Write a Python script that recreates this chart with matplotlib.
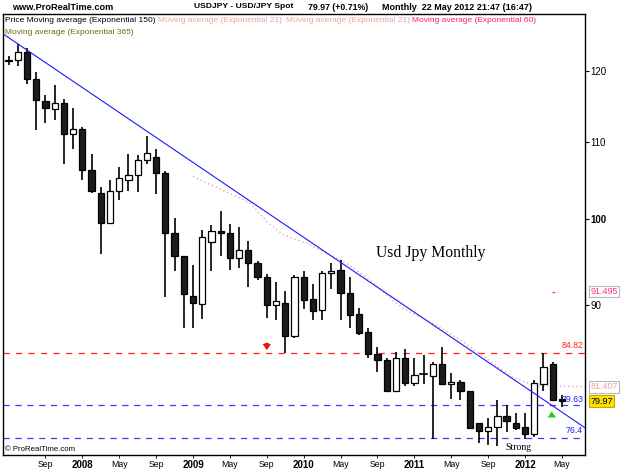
import matplotlib
matplotlib.use("Agg")
import matplotlib.pyplot as plt
from matplotlib.patches import Rectangle
from matplotlib.ticker import NullLocator, FixedLocator, FixedFormatter
import pandas as pd

# ---------------- data ----------------
months = pd.date_range("2007-05-01", "2012-05-01", freq="MS")

opens = [121.5, 121.7, 122.9, 118.8, 115.7, 114.5, 115.3, 111.0, 111.7, 106.3,
         103.3, 99.6, 103.5, 104.9, 105.6, 107.5, 108.0, 105.8, 98.3, 95.6,
         91.0, 90.1, 97.3, 98.6, 98.3, 95.4, 96.3, 94.8, 93.2, 90.0,
         90.2, 86.6, 93.2, 90.7, 89.4, 93.6, 94.0, 91.3, 89.0, 87.1,
         84.7, 84.1, 81.0, 84.3, 81.8, 82.6, 82.5, 83.7, 81.7, 81.9,
         81.0, 77.9, 77.1, 77.5, 78.5, 77.9, 77.5, 76.8, 81.7, 83.7,
         80.2]
highs = [122.3, 124.0, 123.5, 119.8, 116.5, 118.0, 115.9, 114.6, 112.0, 108.3,
         104.0, 104.9, 106.6, 108.4, 108.2, 110.8, 109.0, 106.1, 100.1, 95.6,
         94.5, 98.7, 99.3, 101.0, 99.4, 99.0, 97.4, 95.0, 93.5, 92.6,
         91.6, 93.4, 93.8, 92.4, 93.8, 94.8, 95.1, 93.1, 89.7, 87.5,
         85.5, 84.3, 85.0, 85.3, 84.3, 84.6, 83.9, 85.5, 82.8, 82.1,
         81.0, 77.9, 78.3, 80.1, 79.6, 78.8, 78.8, 82.1, 84.8, 83.9,
         80.6]
lows = [120.9, 120.7, 118.1, 111.6, 112.5, 113.0, 107.0, 109.0, 104.9, 103.3,
        95.8, 99.5, 102.4, 103.5, 103.4, 107.0, 103.2, 90.9, 93.9, 87.5,
        87.5, 88.5, 93.9, 95.6, 94.0, 94.2, 92.0, 92.8, 88.6, 88.4,
        84.82, 86.4, 89.6, 88.4, 88.4, 91.8, 88.4, 87.5, 86.7, 84.3,
        82.9, 80.9, 80.9, 81.5, 81.5, 81.7, 76.3, 81.6, 80.2, 80.1,
        77.3, 76.0, 75.8, 75.7, 77.0, 77.2, 76.3, 76.5, 81.0, 80.0,
        79.4]
closes = [121.7, 122.9, 118.8, 115.8, 114.6, 115.3, 111.0, 111.7, 106.3, 103.5,
          99.6, 103.5, 105.2, 105.6, 107.5, 108.5, 105.8, 98.3, 95.6, 91.2,
          90.2, 97.8, 98.6, 98.3, 95.4, 96.3, 94.8, 93.2, 90.0, 90.5,
          86.6, 93.2, 90.6, 89.3, 93.6, 93.9, 91.3, 88.9, 87.0, 84.7,
          84.1, 81.0, 84.3, 81.8, 82.6, 82.7, 83.7, 81.7, 81.9, 81.0,
          77.4, 77.1, 77.5, 78.5, 78.0, 77.4, 76.8, 81.8, 83.4, 80.1,
          79.97]

# EMA(21) dotted trace (index, price)
ema21_idx = [20.0, 23.3, 26.2, 28.0, 29.8, 32.3, 34.9, 36.7, 39.4, 41.7,
             42.8, 46.0, 49.0, 54.6, 57.0, 62.5]
ema21_val = [105.4, 103.6, 102.0, 99.7, 98.1, 97.1, 95.7, 94.7, 92.6, 90.5,
             89.6, 88.0, 86.2, 82.4, 81.5, 81.407]
ema60_idx = [58.9, 59.6]
ema60_val = [91.495, 91.495]

# downtrend line (index, price)
trend_idx = [-0.6, 62.5]
trend_val = [125.6, 77.4]

red_level = 84.82
blue_levels = [79.63, 76.4]
last_price = 79.97
ema21_last = 81.407
ema60_last = 91.495

ytick_vals = [90, 100, 110, 120]

# ---------------- figure ----------------
W, H = 625, 469
fig = plt.figure(figsize=(W / 100, H / 100), dpi=100)
fig.patch.set_facecolor("white")
L, R, T, B = 3, 585, 14, 455
ax = fig.add_axes([L / W, 1 - B / H, (R - L) / W, (B - T) / H])
ax.set_yscale("log")
ax.set_xlim(-0.6, 62.5)
ax.set_ylim(74.85, 128.7)

FONT = ["Liberation Sans", "DejaVu Sans"]
SERIF = ["Liberation Serif", "DejaVu Serif"]

# candles
bw = 0.68
for i, (o, h, l, c) in enumerate(zip(opens, highs, lows, closes)):
    ax.plot([i, i], [l, h], color="black", lw=1.2, zorder=3, solid_capstyle="butt")
    lo, hi = min(o, c), max(o, c)
    if hi / lo < 1.0015:
        ax.plot([i - bw / 2, i + bw / 2], [c, c], color="black", lw=1.2, zorder=4)
        continue
    if c >= o:
        ax.add_patch(Rectangle((i - bw / 2, lo), bw, hi - lo, facecolor="white",
                               edgecolor="black", lw=0.9, zorder=4))
    else:
        ax.add_patch(Rectangle((i - bw / 2, lo), bw, hi - lo, facecolor="#1c1c1c",
                               edgecolor="black", lw=0.9, zorder=4))

# levels
ax.axhline(red_level, color="#ff2020", lw=0.9, dashes=(5, 5), zorder=2)
for lv in blue_levels:
    ax.axhline(lv, color="#3a3aff", lw=0.9, dashes=(5, 4.5), zorder=2)

# trendline
ax.plot(trend_idx, trend_val, color="#1a1aff", lw=0.8, zorder=5)

# moving averages
ax.plot(ema21_idx, ema21_val, color="#f4a0a0", lw=1.0, dashes=(1, 2), zorder=2)
ax.plot(ema60_idx, ema60_val, color="#ff3380", lw=1.0, dashes=(2, 2), zorder=2)

# arrows
ax.annotate("", xy=(28.0, 84.85), xytext=(28.0, 86.2),
            arrowprops=dict(arrowstyle="simple,head_width=0.6,head_length=0.45,tail_width=0.3",
                            color="#ee1111", lw=0), zorder=6)
ax.annotate("", xy=(58.9, 79.25), xytext=(58.9, 78.15),
            arrowprops=dict(arrowstyle="simple,head_width=0.6,head_length=0.45,tail_width=0.3",
                            color="#22cc22", lw=0), zorder=6)

# texts inside the chart
ax.text(45.8, 95.9, "Usd Jpy Monthly", family=SERIF, fontsize=11.3, ha="center",
        va="center", color="black")
ax.text(55.3, 75.55, "Strong", family=SERIF, fontsize=7, ha="center", va="center")
ax.text(62.3, red_level * 1.004, "84.82", color="#ff2020", fontsize=6.3, family=FONT,
        ha="right", va="bottom")
ax.text(62.3, blue_levels[0] * 1.001, "79.63", color="#2020ff", fontsize=6.3, family=FONT,
        ha="right", va="bottom")
ax.text(62.3, blue_levels[1] * 1.004, "76.4", color="#2020ff", fontsize=6.3, family=FONT,
        ha="right", va="bottom")
ax.text(0.004, 0.004, "© ProRealTime.com", transform=ax.transAxes, fontsize=5.6,
        family=FONT, ha="left", va="bottom")

# axes styling
for sp in ax.spines.values():
    sp.set_color("black")
    sp.set_linewidth(1.0)
ax.yaxis.tick_right()
ax.yaxis.set_minor_locator(NullLocator())
ax.yaxis.set_major_locator(FixedLocator(ytick_vals))
ax.yaxis.set_major_formatter(FixedFormatter([str(v) for v in ytick_vals]))
ax.tick_params(axis="y", which="major", direction="out", length=3, width=0.8,
               pad=1, labelsize=7, colors="black")
for lab in ax.get_yticklabels():
    lab.set_family(FONT)
    if lab.get_text() == "100":
        lab.set_fontweight("bold")

xt_pos, xt_lab = [], []
for i, m in enumerate(months):
    if i > 0 and m.month in (1, 5, 9):
        xt_pos.append(i)
        xt_lab.append(str(m.year) if m.month == 1 else m.strftime("%b"))
ax.set_xticks(xt_pos)
ax.set_xticklabels(xt_lab)
ax.tick_params(axis="x", direction="out", length=2, width=0.6, pad=1.5, labelsize=6.3)
for lab in ax.get_xticklabels():
    lab.set_family(FONT)
    if lab.get_text().isdigit():
        lab.set_fontweight("bold")
        lab.set_fontsize(7)

# right-side value boxes
def box_label(price, text, fc, tc, ec):
    ax.annotate(text, xy=(1.0, price), xycoords=("axes fraction", "data"),
                xytext=(4, 0), textcoords="offset points", fontsize=6.5, family=FONT,
                color=tc, va="center", ha="left",
                bbox=dict(boxstyle="square,pad=0.15", fc=fc, ec=ec, lw=0.8),
                annotation_clip=False)

box_label(ema60_last, "91.495", "white", "#ff3380", "#a9bccc")
box_label(ema21_last, "81.407", "white", "#f4a0a0", "#a9bccc")
box_label(last_price, "79.97", "#ffe000", "black", "#c8a800")

# header
hy = 1 - 7 / H
fig.text(12 / W, hy, "www.ProRealTime.com", fontsize=6.6, fontweight="bold",
         family=FONT, va="center", ha="left")
fig.text(194 / W, hy, "USDJPY - USD/JPY Spot", fontsize=6.1, fontweight="bold",
         family=FONT, va="center", ha="left")
fig.text(308 / W, hy, "79.97 (+0.71%)", fontsize=6.3, fontweight="bold",
         family=FONT, va="center", ha="left")
fig.text(382 / W, hy, "Monthly  22 May 2012 21:47 (16:47)", fontsize=6.5,
         fontweight="bold", family=FONT, va="center", ha="left")

# legend lines inside the chart
fig.canvas.draw()
rend = fig.canvas.get_renderer()
items = [("Price Moving average (Exponential 150)", "black"),
         ("Moving average (Exponential 21)", "#f4a0a0"),
         ("Moving average (Exponential 21)", "#f4a0a0"),
         ("Moving average (Exponential 60)", "#ff1a75")]
x = 5
for s, c in items:
    t = fig.text(x / W, 1 - 21 / H, s, color=c, fontsize=6.05, family=FONT,
                 va="center", ha="left")
    x += t.get_window_extent(rend).width + 3
fig.text(5 / W, 1 - 32 / H, "Moving average (Exponential 365)", color="#6b6b00",
         fontsize=6.05, family=FONT, va="center", ha="left")

fig.savefig("out.png", dpi=100)
